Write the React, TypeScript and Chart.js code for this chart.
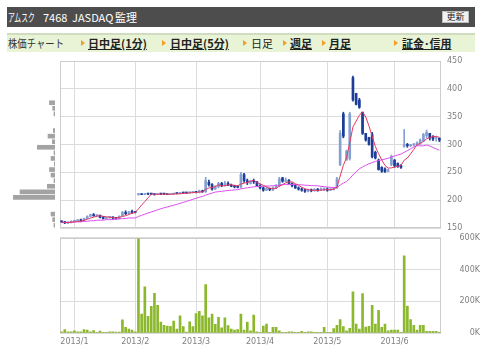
import React, { useEffect, useRef } from 'react';
import { Chart, registerables } from 'chart.js';

Chart.register(...registerables);

// ---------- data ----------
const monthIdx = [4, 23, 42, 62, 83, 104];
const monthLabels = ['2013/1', '2013/2', '2013/3', '2013/4', '2013/5', '2013/6'];

const opens = [162,161,159,160,162,163,164,163,167,171,174,172,173,169,167,169,170,168,167,172,178,176,179,178,
210,211,210,211,211,211,210,211,211,211,210,211,212,212,213,213,213,214,215,214,217,215,232,228,220,224,230,226,230,227,225,224,224,246,235,230,234,233,226,222,218,221,219,222,226,240,234,236,230,226,222,220,218,216,218,217,219,218,219,220,218,220,222,264,355,272,275,420,392,380,358,320,313,318,286,272,259,256,252,264,272,266,262,297,300,298,299,300,302,306,316,320,314,311,311];
const highs = [163,162,161,163,164,165,166,168,172,175,176,174,173,171,170,171,170,169,172,180,181,180,182,179,
212,211,212,211,212,211,211,211,212,211,211,212,212,214,214,213,215,216,216,218,218,241,236,230,226,232,232,234,233,229,227,226,250,248,238,236,238,234,228,224,224,222,224,228,241,241,240,237,231,228,224,222,220,220,220,221,221,222,222,222,221,223,241,325,358,290,358,423,392,383,358,320,313,322,288,274,260,258,256,281,273,267,264,327,302,300,302,305,310,320,326,320,316,314,312];
const lows = [160,158,158,159,160,162,162,163,167,170,171,170,168,166,166,167,166,166,167,171,174,175,176,177,
209,210,210,210,210,209,210,210,210,210,210,210,211,211,212,212,212,213,213,213,214,214,225,218,219,222,224,225,226,224,222,222,222,232,228,229,230,225,220,216,217,217,217,221,224,232,233,229,224,221,218,216,214,215,215,216,216,217,217,216,217,218,221,262,312,272,272,378,371,365,318,306,299,276,274,254,250,250,251,262,259,259,257,295,295,296,297,298,300,305,312,308,307,306,305];
const closes = [161,159,160,162,163,164,163,167,171,174,172,173,169,167,169,170,168,167,171,178,176,179,178,178,
211,210,211,211,211,210,211,211,211,210,211,212,212,213,213,213,214,215,214,217,215,235,228,220,224,230,226,230,227,225,224,223,246,235,232,234,233,226,222,218,221,219,222,226,238,234,236,230,226,222,220,218,216,218,217,219,218,219,220,218,220,221,238,320,315,288,355,380,372,367,320,308,300,278,276,255,252,251,254,278,262,260,259,300,298,299,300,303,308,318,322,312,310,312,308];

const ma5 = [161,160,160,160.5,161,161.6,162.4,163.8,165.6,167.8,
169.4,171.4,171.8,171,170,169.6,168.6,168.2,169,170.8,
172,174.2,176.4,177.8,184.4,191.2,197.6,204.2,210.8,210.6,
210.8,210.8,210.8,210.6,210.8,211,211.2,211.6,212.2,212.6,
213,213.6,213.8,214.6,215,219.2,221.8,223,224.4,227.4,
225.6,226,227.4,227.6,226.4,225.8,229,230.6,232,234,
236,232,229.4,226.6,224,221.2,220.4,221.2,225.2,227.8,
231.2,232.8,232.8,229.6,226.8,223.2,220.4,218.8,217.8,217.6,
217.6,218.2,218.6,218.8,219,219.6,223.4,243.4,262.8,276.4,
303.2,331.6,342,352.4,358.8,349.4,333.4,314.6,296.4,283.4,
272.2,262.4,257.6,258,259.4,261,262.6,271.8,275.8,283.2,
291.2,300,301.6,305.6,310.2,312.6,314,314.8,312.8];

const ma25 = [160,160,160,160,161,161,161,162,162,163,
163,164,164,164,165,165,165,166,166,167,
167,168,168,168,170.8,172.8,174.8,176.9,178.8,180.7,
182.6,184.5,186.3,187.8,189.3,190.9,192.5,194.2,196.1,197.8,
199.6,201.5,203.4,205.2,206.7,209,211,212.7,214.5,215.3,
215.9,216.7,217.3,217.9,218.4,218.9,220.3,221.3,222.2,223.1,
223.9,224.5,224.8,225,225.4,225.6,225.8,226.3,227.2,227.9,
228,228,228.3,228.2,227.8,227.5,226.9,226.6,226.2,226,
225.8,224.8,224.2,223.6,223,222.6,223,227,230.8,233.5,
239,245.3,251.1,256.3,259.7,262.6,265.4,267.5,269.6,271,
272.4,273.8,275.2,277.7,279.4,281.1,282.7,285.9,289.1,292.2,
295.4,298,297.5,297.6,299,297.3,294.5,292.1,289.7];

// volume in thousands of shares
const volumesK = [8,22,8,8,14,8,8,22,18,8,
15,5,12,5,5,8,8,6,6,83,
35,24,18,8,594,119,291,105,168,250,
174,69,48,44,42,75,24,109,40,6,
71,40,123,137,109,305,95,119,55,99,
32,95,46,24,18,22,119,18,69,14,
113,8,5,44,57,5,36,36,14,5,
5,8,8,5,5,10,5,8,8,5,
5,5,35,5,5,28,48,85,40,13,
30,260,57,24,248,38,42,174,57,143,
36,57,13,18,18,18,5,487,170,85,
48,18,48,48,10,10,10,10,5];

// volume-by-price histogram
const histPrices = [375,365,355,325,315,305,295,285,275,265,255,245,235,225,215,205,175,165,155];
const histVolumesK = [350,145,63,107,441,170,1115,63,252,44,347,252,63,485,2205,2627,252,145,63];

const priceTicks = [150, 200, 250, 300, 350, 400, 450];
const volumeTicksK = [0, 200, 400, 600];

// ---------- styles ----------
const UP = '#84a0d2';
const DOWN = '#1d3d98';
const GRID = '#dcdcdc';
const LABEL = '#808080';
const TICK_FONT = { family: 'DejaVu Sans', size: 8 };

const framePlugin = {
  id: 'frame',
  beforeDatasetsDraw(chart: any) {
    const { ctx, chartArea: a } = chart;
    ctx.save();
    ctx.strokeStyle = '#cdcdcd';
    ctx.lineWidth = 1;
    ctx.strokeRect(Math.round(a.left) + 0.5, Math.round(a.top) + 0.5, Math.round(a.right - a.left) - 1, Math.round(a.bottom - a.top) - 1);
    ctx.restore();
  },
};

const N = closes.length;

function monthXAxis(showLabels: boolean, height: number) {
  return {
    type: 'linear',
    min: -0.5,
    max: N - 0.5,
    offset: false,
    afterBuildTicks(ax: any) {
      ax.ticks = monthIdx.map((v) => ({ value: v }));
    },
    afterFit(ax: any) {
      ax.height = height;
    },
    ticks: {
      display: showLabels,
      autoSkip: false,
      maxRotation: 0,
      color: LABEL,
      font: TICK_FONT,
      padding: 4,
      callback: (v: number) => {
        const k = monthIdx.indexOf(v);
        return k >= 0 ? monthLabels[k] : '';
      },
    },
    grid: { color: GRID, drawTicks: false, offset: false },
    border: { display: false },
  };
}

export default function App() {
  const priceRef = useRef<HTMLCanvasElement>(null);
  const volRef = useRef<HTMLCanvasElement>(null);
  const histRef = useRef<HTMLCanvasElement>(null);

  useEffect(() => {
    const candleColors = closes.map((c, i) => (c > opens[i] ? UP : DOWN));

    const price = new Chart(priceRef.current!, {
      type: 'bar',
      data: {
        datasets: [
          {
            type: 'line',
            data: ma5.map((v, i) => ({ x: i, y: v })),
            borderColor: '#e8365e',
            borderWidth: 1,
            pointRadius: 0,
            tension: 0,
          },
          {
            type: 'line',
            data: ma25.map((v, i) => ({ x: i, y: v })),
            borderColor: '#dc4ef2',
            borderWidth: 1,
            pointRadius: 0,
            tension: 0,
          },
          {
            type: 'bar',
            data: opens.map((o, i) => ({ x: i, y: [o, closes[i]] })),
            backgroundColor: candleColors,
            barThickness: 2,
            minBarLength: 1,
            grouped: false,
          },
          {
            type: 'bar',
            data: lows.map((l, i) => ({ x: i, y: [l, highs[i]] })),
            backgroundColor: candleColors,
            barThickness: 1,
            grouped: false,
          },
        ],
      } as any,
      options: {
        animation: false,
        responsive: false,
        events: [],
        plugins: { legend: { display: false }, tooltip: { enabled: false } },
        layout: { padding: { left: 60, top: 11, bottom: 12, right: 0 } },
        scales: {
          x: monthXAxis(false, 0) as any,
          y: {
            position: 'right',
            min: 150,
            max: 450,
            afterBuildTicks(ax: any) {
              ax.ticks = priceTicks.map((v) => ({ value: v }));
            },
            afterFit(ax: any) {
              ax.width = 39;
            },
            ticks: { color: LABEL, font: TICK_FONT, padding: 6 },
            grid: { color: GRID, drawTicks: false },
            border: { display: false },
          },
        },
      } as any,
      plugins: [framePlugin],
    });

    const volume = new Chart(volRef.current!, {
      type: 'bar',
      data: {
        datasets: [
          {
            data: volumesK.map((v, i) => ({ x: i, y: v * 1000 })),
            backgroundColor: '#8cb82e',
            barThickness: 2,
          },
        ],
      } as any,
      options: {
        animation: false,
        responsive: false,
        events: [],
        plugins: { legend: { display: false }, tooltip: { enabled: false } },
        layout: { padding: { left: 60, top: 6, bottom: 0, right: 0 } },
        scales: {
          x: monthXAxis(true, 18) as any,
          y: {
            position: 'right',
            min: 0,
            max: 600000,
            afterBuildTicks(ax: any) {
              ax.ticks = volumeTicksK.map((v) => ({ value: v * 1000 }));
            },
            afterFit(ax: any) {
              ax.width = 39;
            },
            ticks: {
              color: LABEL,
              font: TICK_FONT,
              padding: 5,
              crossAlign: 'far',
              callback: (v: number) => v / 1000 + 'K',
            },
            grid: { color: GRID, drawTicks: false },
            border: { display: false },
          },
        },
      } as any,
      plugins: [framePlugin],
    });

    const hist = new Chart(histRef.current!, {
      type: 'bar',
      data: {
        datasets: [
          {
            data: histPrices.map((p, i) => ({ x: histVolumesK[i], y: p })),
            backgroundColor: '#a3a3a3',
            barThickness: 4,
          },
        ],
      } as any,
      options: {
        indexAxis: 'y',
        animation: false,
        responsive: false,
        events: [],
        plugins: { legend: { display: false }, tooltip: { enabled: false } },
        layout: { padding: { left: 13, top: 11, bottom: 12, right: 5 } },
        scales: {
          x: { type: 'linear', reverse: true, min: 0, max: 2650, display: false },
          y: { type: 'linear', min: 150, max: 450, display: false, offset: false },
        },
      } as any,
    });

    return () => {
      price.destroy();
      volume.destroy();
      hist.destroy();
    };
  }, []);

  const cjk = '"Noto Sans CJK JP", sans-serif';
  const bullet = (left: number) => (
    <div
      style={{
        position: 'absolute',
        left,
        top: 40,
        width: 0,
        height: 0,
        borderTop: '3px solid transparent',
        borderBottom: '3px solid transparent',
        borderLeft: '4px solid #f0a028',
      }}
    />
  );
  const item = (left: number, text: string, bold: boolean) => (
    <span
      style={{
        position: 'absolute',
        left,
        top: 35,
        lineHeight: '16px',
        fontSize: 11,
        fontWeight: bold ? 'bold' : 'normal',
        textDecoration: bold ? 'underline' : 'none',
        color: '#222',
        whiteSpace: 'nowrap',
        fontFamily: cjk,
      }}
    >
      {text}
    </span>
  );
  const headText = (left: number, text: string, scale = 1) => (
    <span
      style={{
        position: 'absolute',
        left,
        top: 9,
        lineHeight: '16px',
        fontSize: 11,
        color: '#ffffff',
        whiteSpace: 'nowrap',
        fontFamily: cjk,
        transform: `scaleX(${scale})`,
        transformOrigin: 'left center',
      }}
    >
      {text}
    </span>
  );

  return (
    <div style={{ position: 'absolute', left: 0, top: 0, width: 480, height: 351, background: '#fff', overflow: 'hidden' }}>
      <div style={{ position: 'absolute', left: 7, top: 7, width: 468, height: 20, background: '#4d4d4d' }} />
      {headText(8, 'アムスク', 0.62)}
      {headText(43, '7468', 1)}
      {headText(72, 'JASDAQ', 1)}
      {headText(115, '監理', 1)}
      <div
        style={{
          position: 'absolute',
          left: 442,
          top: 11,
          width: 25,
          height: 10,
          background: '#f2f2f2',
          border: '1px solid #bdbdbd',
          fontSize: 9,
          lineHeight: '10px',
          textAlign: 'center',
          color: '#222',
          fontFamily: cjk,
        }}
      >
        更新
      </div>

      <div style={{ position: 'absolute', left: 7, top: 33, width: 468, height: 17, background: '#e9f4d6', borderTop: '2px solid #cfdcc0' }} />
      <span
        style={{
          position: 'absolute',
          left: 8,
          top: 35,
          lineHeight: '16px',
          fontSize: 11,
          color: '#333',
          whiteSpace: 'nowrap',
          fontFamily: cjk,
          transform: 'scaleX(0.85)',
          transformOrigin: 'left center',
        }}
      >
        株価チャート
      </span>
      {bullet(81)}
      {item(88, '日中足(1分)', true)}
      {bullet(162)}
      {item(170, '日中足(5分)', true)}
      {bullet(243)}
      {item(251, '日足', false)}
      {bullet(283)}
      {item(290, '週足', true)}
      {bullet(322)}
      {item(329, '月足', true)}
      {bullet(394)}
      {item(402, '証金･信用', true)}

      <canvas ref={histRef} width={60} height={190} style={{ position: 'absolute', left: 0, top: 50, width: 60, height: 190 }} />
      <canvas ref={priceRef} width={480} height={190} style={{ position: 'absolute', left: 0, top: 50, width: 480, height: 190 }} />
      <canvas ref={volRef} width={480} height={123} style={{ position: 'absolute', left: 0, top: 228, width: 480, height: 123 }} />
    </div>
  );
}
